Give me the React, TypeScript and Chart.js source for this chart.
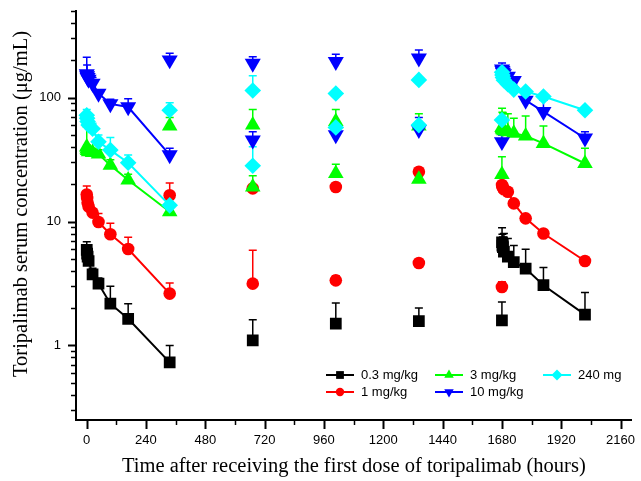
import React, { useEffect, useRef } from 'react';
import { Chart, registerables } from 'chart.js';

Chart.register(...registerables);

// ---- time points (hours) ----
const firstTimes = [0.5, 2, 4, 8, 24, 48, 96, 168, 336];
const lastTimes = [1680.5, 1682, 1684, 1688, 1704, 1728, 1776, 1848, 2016];
const peakTimes = [336, 672, 1008, 1344];
const troughTimes = [672, 1008, 1344, 1680];

// ---- axis ticks ----
const xTickLabels = [0, 240, 480, 720, 960, 1200, 1440, 1680, 1920, 2160];
const yTickLabels = [1, 10, 100];

const xTitle = 'Time after receiving the first dose of toripalimab (hours)';
const yTitle = 'Toripalimab serum concentration (μg/mL)';

// ---- 0.3 mg/kg ----
const first03 = [5.9, 5.5, 5.2, 4.8, 3.75, 3.15, 2.17, 1.64, 0.73];
const first03Sd = [0.95, 0.7, 0.6, 0.6, 0.45, 0.35, 0.83, 0.53, 0.27];
const peak03: (number | null)[] = [null, null, null, null];
const peak03Sd = [0, 0, 0, 0];
const trough03 = [1.1, 1.5, 1.57, 1.59];
const trough03Sd = [0.51, 0.7, 0.43, 0.65];
const last03 = [6.8, 6.4, 6.2, 5.7, 5.2, 4.7, 4.17, 3.06, 1.77];
const last03Sd = [2.1, 1.5, 1.3, 2.3, 2.1, 1.7, 1.8, 1.19, 0.9];

// ---- 1 mg/kg ----
const first1 = [16.5, 15.5, 14.2, 13.2, 11.8, 9.9, 7.9, 6.0, 2.62];
const first1Sd = [2.8, 1.5, 1.2, 1.0, 0.8, 1.7, 1.8, 1.45, 0.57];
const peak1 = [16.3, 18.5, 19, 25.2];
const peak1Sd = [4.2, 0.8, 0.8, 0.8];
const trough1 = [3.15, 3.35, 4.63, 2.96];
const trough1Sd = [2.7, 0.3, 0.3, 0.3];
const last1 = [19.7, 19.2, 18.7, 18.2, 17.4, 14.0, 10.6, 8.0, 4.8];
const last1Sd = [1, 1, 1, 1, 1, 0.8, 0.6, 0.5, 0.3];

// ---- 3 mg/kg ----
const first3 = [40, 38.5, 37.5, 36.5, 36, 35, 28.5, 21.6, 12];
const first3Sd = [18, 3, 3, 3, 3, 3, 3, 2.5, 1];
const peak3 = [59, 60, 64, 59];
const peak3Sd = [10, 20, 16, 15];
const trough3 = [19, 24.4, 21.9, 24];
const trough3Sd = [4.4, 4.6, 3, 9.3];
const last3 = [57.5, 56, 55, 54, 53, 51.5, 49, 42.7, 29.4];
const last3Sd = [24.5, 20, 20, 20, 21, 16.5, 22, 16.3, 9.6];

// ---- 10 mg/kg ----
const first10 = [155, 150, 145, 140, 130, 108, 89, 84, 34.5];
const first10Sd = [57, 33, 20, 22, 15, 4, 8, 14, 4.5];
const peak10 = [201, 189, 195, 208];
const peak10Sd = [27, 25, 29, 34];
const trough10 = [45.4, 50, 55, 44];
const trough10Sd = [7.6, 7, 14, 6];
const last10 = [170, 165, 160, 155, 148, 137, 95, 77, 47];
const last10Sd = [20, 15, 12, 10, 10, 8, 22, 18, 6];

// ---- 240 mg ----
const first240 = [72, 68, 64, 60, 56, 44, 37.7, 29.8, 13.5];
const first240Sd = [8, 6, 6, 6, 6, 6, 10, 4.6, 1];
const peak240 = [79, 114, 108, 139];
const peak240Sd = [12, 36, 5, 5];
const trough240 = [28.2, 57.5, 60, 66];
const trough240Sd = [12, 4, 4, 4];
const last240 = [160, 152, 145, 138, 128, 116, 112, 102, 79];
const last240Sd = [10, 8, 8, 8, 8, 5, 5, 5, 3];

const series = [
  { label: '0.3 mg/kg', color: '#000000', style: 'rect', rot: 0, r: 8.3, order: 5,
    first: first03, firstSd: first03Sd, peak: peak03, peakSd: peak03Sd, trough: trough03, troughSd: trough03Sd, last: last03, lastSd: last03Sd },
  { label: '1 mg/kg', color: '#FF0000', style: 'circle', rot: 0, r: 6.3, order: 4,
    first: first1, firstSd: first1Sd, peak: peak1, peakSd: peak1Sd, trough: trough1, troughSd: trough1Sd, last: last1, lastSd: last1Sd },
  { label: '3 mg/kg', color: '#00FF00', style: 'triangle', rot: 0, r: 9, order: 3,
    first: first3, firstSd: first3Sd, peak: peak3, peakSd: peak3Sd, trough: trough3, troughSd: trough3Sd, last: last3, lastSd: last3Sd },
  { label: '10 mg/kg', color: '#0000FF', style: 'triangle', rot: 180, r: 9.3, order: 2,
    first: first10, firstSd: first10Sd, peak: peak10, peakSd: peak10Sd, trough: trough10, troughSd: trough10Sd, last: last10, lastSd: last10Sd },
  { label: '240 mg', color: '#00FFFF', style: 'rectRot', rot: 0, r: 8.3, order: 1,
    first: first240, firstSd: first240Sd, peak: peak240, peakSd: peak240Sd, trough: trough240, troughSd: trough240Sd, last: last240, lastSd: last240Sd },
];

function pts(times: number[], vals: (number | null)[], sd: number[]) {
  const data: { x: number; y: number }[] = [];
  const err: number[] = [];
  times.forEach((t, i) => {
    const v = vals[i];
    if (v != null) {
      data.push({ x: t, y: v });
      err.push(sd[i]);
    }
  });
  return { data, err };
}

function buildDatasets() {
  const out: any[] = [];
  series.forEach((s) => {
    const common = {
      borderColor: s.color,
      backgroundColor: s.color,
      pointBackgroundColor: s.color,
      pointBorderColor: s.color,
      pointBorderWidth: 0,
      pointStyle: s.style,
      pointRotation: s.rot,
      pointRadius: s.r,
      pointHoverRadius: s.r,
      borderWidth: 2,
      order: s.order,
    };
    const f = pts(firstTimes, s.first, s.firstSd);
    const pk = pts(peakTimes, s.peak, s.peakSd);
    const tr = pts(troughTimes, s.trough, s.troughSd);
    const l = pts(lastTimes, s.last, s.lastSd);
    out.push({ ...common, label: s.label, data: f.data, err: f.err, showLine: true });
    out.push({ ...common, label: s.label + ' pk', data: [...pk.data, ...tr.data], err: [...pk.err, ...tr.err], showLine: false });
    out.push({ ...common, label: s.label + ' last', data: l.data, err: l.err, showLine: true });
  });
  return out;
}

const errorBarPlugin = {
  id: 'errorBars',
  beforeDatasetsDraw(chart: any) {
    const { ctx, scales } = chart;
    const y = scales.y;
    ctx.save();
    chart.data.datasets.forEach((ds: any, i: number) => {
      const meta = chart.getDatasetMeta(i);
      if (!ds.err) return;
      meta.data.forEach((pt: any, j: number) => {
        const d = ds.data[j];
        const e = ds.err[j];
        if (!d || !e) return;
        const yTop = y.getPixelForValue(d.y + e);
        ctx.strokeStyle = ds.borderColor;
        ctx.lineWidth = 1.5;
        ctx.beginPath();
        ctx.moveTo(pt.x, pt.y);
        ctx.lineTo(pt.x, yTop);
        ctx.moveTo(pt.x - 4, yTop);
        ctx.lineTo(pt.x + 4, yTop);
        ctx.stroke();
      });
    });
    ctx.restore();
  },
};

const axisTickPlugin = {
  id: 'axisTicks',
  afterDraw(chart: any) {
    const { ctx, chartArea, scales } = chart;
    const x = scales.x;
    const y = scales.y;
    ctx.save();
    ctx.strokeStyle = '#000';
    y.ticks.forEach((t: any) => {
      const v = t.value;
      const major = yTickLabels.includes(v);
      const py = Math.round(y.getPixelForValue(v)) + 0.5;
      ctx.lineWidth = major ? 2 : 1.5;
      const len = major ? 8 : 5;
      ctx.beginPath();
      ctx.moveTo(chartArea.left - len, py);
      ctx.lineTo(chartArea.left, py);
      ctx.stroke();
    });
    for (let v = 0; v <= 2160; v += 120) {
      const major = v % 240 === 0;
      const px = Math.round(x.getPixelForValue(v)) + 0.5;
      ctx.lineWidth = major ? 2 : 1.5;
      const len = major ? 9 : 5;
      ctx.beginPath();
      ctx.moveTo(px, chartArea.bottom);
      ctx.lineTo(px, chartArea.bottom + len);
      ctx.stroke();
    }
    // y axis title
    ctx.fillStyle = '#000';
    ctx.font = '20.5px "Liberation Serif", "Times New Roman", serif';
    ctx.textAlign = 'center';
    ctx.textBaseline = 'middle';
    ctx.translate(22, 204);
    ctx.rotate(-Math.PI / 2);
    ctx.fillText(yTitle, 0, 0);
    ctx.restore();
  },
};

function drawMarker(ctx: CanvasRenderingContext2D, style: string, rot: number, x: number, y: number, r: number) {
  ctx.beginPath();
  if (style === 'rect') {
    const h = r * Math.SQRT1_2;
    ctx.rect(x - h, y - h, 2 * h, 2 * h);
  } else if (style === 'circle') {
    ctx.arc(x, y, r, 0, Math.PI * 2);
  } else if (style === 'triangle') {
    const sgn = rot === 180 ? -1 : 1;
    ctx.moveTo(x, y - sgn * r);
    ctx.lineTo(x + r * 0.866, y + sgn * r * 0.5);
    ctx.lineTo(x - r * 0.866, y + sgn * r * 0.5);
    ctx.closePath();
  } else {
    ctx.moveTo(x, y - r);
    ctx.lineTo(x + r, y);
    ctx.lineTo(x, y + r);
    ctx.lineTo(x - r, y);
    ctx.closePath();
  }
  ctx.fill();
}

const legendItems = [
  { idx: 0, x0: 326, y: 375 },
  { idx: 1, x0: 326, y: 392 },
  { idx: 2, x0: 435, y: 375 },
  { idx: 3, x0: 435, y: 392 },
  { idx: 4, x0: 543, y: 375 },
];

const legendPlugin = {
  id: 'insideLegend',
  afterDraw(chart: any) {
    const { ctx } = chart;
    ctx.save();
    ctx.font = '13px "Liberation Sans", Arial, sans-serif';
    ctx.textBaseline = 'middle';
    ctx.textAlign = 'left';
    legendItems.forEach((it) => {
      const s = series[it.idx];
      ctx.strokeStyle = s.color;
      ctx.fillStyle = s.color;
      ctx.lineWidth = 2;
      ctx.beginPath();
      ctx.moveTo(it.x0, it.y);
      ctx.lineTo(it.x0 + 28, it.y);
      ctx.stroke();
      drawMarker(ctx, s.style, s.rot, it.x0 + 14, it.y, s.style === 'rect' ? 5.5 : s.style === 'circle' ? 4.2 : 5.5);
      ctx.fillStyle = '#000';
      ctx.fillText(s.label, it.x0 + 35, it.y + 0.5);
    });
    ctx.restore();
  },
};

export default function App() {
  const ref = useRef<HTMLCanvasElement>(null);
  useEffect(() => {
    const chart = new Chart(ref.current as HTMLCanvasElement, {
      type: 'scatter',
      data: { datasets: buildDatasets() },
      options: {
        responsive: false,
        animation: false,
        devicePixelRatio: 1,
        layout: { padding: { top: 11, right: 8, left: 0, bottom: 0 } },
        plugins: {
          legend: { display: false },
          tooltip: { enabled: false },
        },
        scales: {
          x: {
            type: 'linear',
            min: -43,
            max: 2205,
            afterBuildTicks: (s: any) => {
              s.ticks = xTickLabels.map((v) => ({ value: v }));
            },
            afterFit: (s: any) => {
              s.height = 61;
              s.paddingLeft = 0;
              s.paddingRight = 0;
            },
            grid: { display: false, drawTicks: false },
            border: { display: true, color: '#000', width: 2 },
            ticks: {
              autoSkip: false,
              maxRotation: 0,
              padding: 13,
              color: '#000',
              font: { family: '"Liberation Sans", Arial, sans-serif', size: 13 },
              callback: (v: any) => String(v),
            },
            title: {
              display: true,
              text: xTitle,
              color: '#000',
              font: { family: '"Liberation Serif", "Times New Roman", serif', size: 20.5, weight: 'normal' },
              padding: { top: 0, bottom: 2 },
            },
          },
          y: {
            type: 'logarithmic',
            min: 0.25,
            max: 500,
            afterBuildTicks: (s: any) => {
              const arr: { value: number }[] = [];
              [0.1, 1, 10, 100].forEach((d) => {
                for (let k = 1; k <= 9; k++) {
                  const v = +(k * d).toFixed(4);
                  if (v >= 0.25 && v <= 500) arr.push({ value: v });
                }
              });
              s.ticks = arr;
            },
            afterFit: (s: any) => {
              s.width = 76;
              s.paddingTop = 0;
              s.paddingBottom = 0;
            },
            grid: { display: false, drawTicks: false },
            border: { display: true, color: '#000', width: 2 },
            ticks: {
              autoSkip: false,
              padding: 15,
              color: '#000',
              font: { family: '"Liberation Sans", Arial, sans-serif', size: 13 },
              callback: (v: any) => (yTickLabels.includes(Number(v)) ? String(v) : ''),
            },
            title: { display: false },
          },
        },
      } as any,
      plugins: [errorBarPlugin, axisTickPlugin, legendPlugin],
    });
    return () => chart.destroy();
  }, []);
  return (
    <div style={{ position: 'absolute', left: 0, top: 0, width: 641, height: 481, background: '#fff' }}>
      <canvas ref={ref} width={641} height={481} style={{ display: 'block', width: 641, height: 481 }} />
    </div>
  );
}
